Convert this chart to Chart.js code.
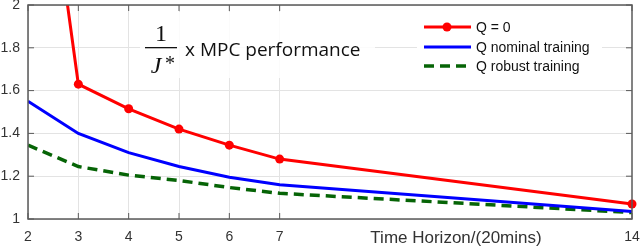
<!DOCTYPE html>
<html>
<head>
<meta charset="utf-8">
<script src="https://cdn.jsdelivr.net/npm/chart.js@4"></script>
<style>
  html, body { margin: 0; padding: 0; background: #fff; }
  #wrap { width: 640px; height: 248px; }
</style>
</head>
<body>
<div id="wrap"><canvas id="myChart" width="640" height="248"></canvas></div>
<script>
// values
const horizons = [2, 3, 4, 5, 6, 7, 14]
const xTickValues = [2, 3, 4, 5, 6, 7, 14]
const yTickValues = [1, 1.2, 1.4, 1.6, 1.8, 2]
const qZero = [3.35, 1.63, 1.515, 1.42, 1.345, 1.28, 1.07]
const qNominal = [1.55, 1.40, 1.31, 1.245, 1.195, 1.16, 1.035]
const qRobust = [1.345, 1.245, 1.205, 1.18, 1.147, 1.12, 1.03]
const seriesNames = ['Q = 0', 'Q nominal training', 'Q robust training']
const xAxisTitle = 'Time Horizon/(20mins)'
const noteText = 'x MPC performance'

const axisColor = '#5a5a5a'
const gridColor = '#e3e3e3'
const textColor = '#333333'

function pts(values) {
    return horizons.map((h, i) => ({ x: h, y: values[i] }))
}

// white boxes + the "1/J* x MPC performance" note, drawn under the lines
const notePlugin = {
    id: 'note',
    beforeDatasetsDraw(chart) {
        const c = chart.ctx
        c.save()
        c.fillStyle = 'rgba(255,255,255,0.85)'
        c.fillRect(140, 12, 235, 66)
        c.fillStyle = '#fff'
        c.fillRect(417, 14, 185, 64)

        c.fillStyle = '#111'
        c.textAlign = 'center'
        c.textBaseline = 'alphabetic'
        c.font = '24px "Liberation Serif"'
        c.fillText('1', 161, 41)
        c.fillRect(145, 47, 32, 1.3)
        c.font = 'italic 24px "Liberation Serif"'
        c.fillText('J', 156, 73)
        c.font = '20px "Liberation Serif"'
        c.fillText('*', 170, 70)
        c.textAlign = 'left'
        c.font = '19px "Open Sans"'
        c.fillText(noteText, 185, 56)
        c.restore()
    }
}

// box frame with inward ticks, legend and x title
const framePlugin = {
    id: 'frame',
    afterDatasetsDraw(chart) {
        const c = chart.ctx
        const a = chart.chartArea
        const xs = chart.scales.x
        const ys = chart.scales.y
        c.save()
        c.strokeStyle = axisColor
        c.lineWidth = 1.5
        c.strokeRect(a.left, a.top, a.right - a.left, a.bottom - a.top)
        c.lineWidth = 1
        c.beginPath()
        for (const v of xTickValues) {
            const px = xs.getPixelForValue(v)
            c.moveTo(px, a.bottom); c.lineTo(px, a.bottom - 6)
            c.moveTo(px, a.top); c.lineTo(px, a.top + 6)
        }
        for (const v of yTickValues) {
            const py = ys.getPixelForValue(v)
            c.moveTo(a.left, py); c.lineTo(a.left + 6, py)
            c.moveTo(a.right, py); c.lineTo(a.right - 6, py)
        }
        c.stroke()

        // legend
        const rows = [27, 47, 66]
        c.font = '14px "Liberation Sans"'
        c.textBaseline = 'middle'
        c.textAlign = 'left'
        chart.data.datasets.forEach((ds, i) => {
            const y = rows[i]
            c.strokeStyle = ds.borderColor
            c.lineWidth = ds.borderWidth
            c.setLineDash(ds.borderDash || [])
            c.beginPath()
            c.moveTo(424, y); c.lineTo(471, y)
            c.stroke()
            c.setLineDash([])
            if (ds.pointRadius > 0) {
                c.fillStyle = ds.borderColor
                c.beginPath()
                c.arc(447, y, ds.pointRadius, 0, Math.PI * 2)
                c.fill()
            }
            c.fillStyle = '#111'
            c.fillText(ds.label, 476, y + 1)
        })

        // x axis title sits on the tick label row
        c.fillStyle = textColor
        c.font = '17px "Liberation Sans"'
        c.textAlign = 'center'
        c.fillText(xAxisTitle, 456, 238)
        c.restore()
    }
}

new Chart(document.getElementById('myChart'), {
    type: 'line',
    data: {
        datasets: [{
            label: seriesNames[0],
            data: pts(qZero),
            borderColor: '#ff0000',
            backgroundColor: '#ff0000',
            borderWidth: 3,
            pointRadius: 4.5,
            pointBorderWidth: 0,
            clip: { left: 0, top: 0, right: 8, bottom: 8 }
        }, {
            label: seriesNames[1],
            data: pts(qNominal),
            borderColor: '#0000ff',
            borderWidth: 3,
            pointRadius: 0,
            clip: { left: 0, top: 0, right: 2, bottom: 2 }
        }, {
            label: seriesNames[2],
            data: pts(qRobust),
            borderColor: '#066406',
            borderWidth: 3.5,
            borderDash: [10, 6],
            pointRadius: 0,
            clip: { left: 0, top: 0, right: 2, bottom: 2 }
        }]
    },
    options: {
        animation: false,
        responsive: false,
        layout: { padding: { top: 5, right: 8, left: 0, bottom: 0 } },
        plugins: { legend: { display: false }, tooltip: { enabled: false } },
        scales: {
            x: {
                type: 'linear',
                min: 2,
                max: 14,
                afterBuildTicks: (s) => { s.ticks = xTickValues.map(v => ({ value: v })) },
                afterFit: (s) => {
                    s.height = 29
                    s.paddingLeft = 0; s.paddingRight = 0
                },
                grid: {
                    color: (ctx) => (ctx.tick && ctx.tick.value === 14) ? 'rgba(0,0,0,0)' : gridColor,
                    drawTicks: false,
                    tickLength: 0
                },
                border: { display: false },
                ticks: {
                    padding: 10,
                    color: textColor,
                    font: { family: 'Liberation Sans', size: 14 },
                    maxRotation: 0,
                    autoSkip: false,
                    callback: (v) => String(v)
                }
            },
            y: {
                min: 1,
                max: 2,
                afterBuildTicks: (s) => { s.ticks = yTickValues.map(v => ({ value: v })) },
                afterFit: (s) => {
                    s.width = 28
                    s.paddingTop = 0; s.paddingBottom = 0
                },
                grid: { color: gridColor, drawTicks: false, tickLength: 0 },
                border: { display: false },
                ticks: {
                    padding: 8,
                    color: textColor,
                    font: { family: 'Liberation Sans', size: 14 },
                    callback: (v) => String(Math.round(v * 10) / 10)
                }
            }
        }
    },
    plugins: [notePlugin, framePlugin]
})
</script>
</body>
</html>
